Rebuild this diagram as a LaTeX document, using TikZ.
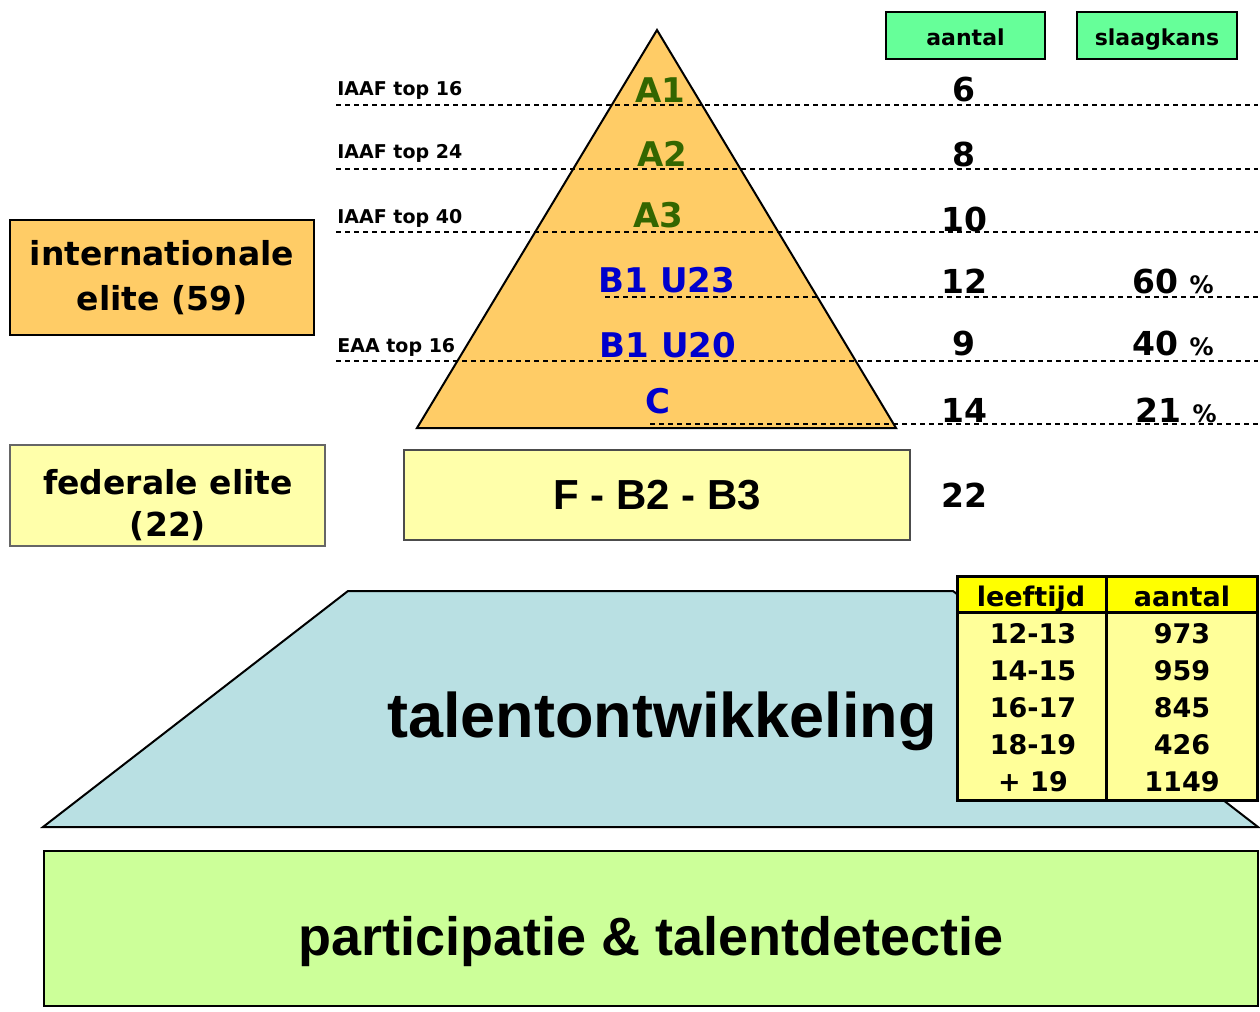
\documentclass[tikz,border=0pt]{standalone}
\usepackage{fontspec}
\setmainfont{DejaVu Sans}
\newfontfamily\arialfont{Liberation Sans}
\definecolor{eliteorange}{HTML}{FFCC66}
\definecolor{headgreen}{HTML}{66FF99}
\definecolor{fedyellow}{HTML}{FFFFAA}
\definecolor{talentblue}{HTML}{B9E0E3}
\definecolor{basegreen}{HTML}{CCFF99}
\definecolor{levelgreen}{HTML}{336600}
\definecolor{levelblue}{HTML}{0000CC}
\definecolor{tabhead}{HTML}{FFFF00}
\definecolor{tabbody}{HTML}{FFFF99}
\tikzset{
  guideline/.style={black, line width=0.8pt, dash pattern=on 2.5pt off 2pt},
  sidelabel/.style={anchor=base west, inner sep=0pt, font=\fontsize{9.5}{11}\selectfont\bfseries},
  level/.style={anchor=base, inner sep=0pt, font=\fontsize{17}{20}\selectfont\bfseries},
  count/.style={anchor=base, inner sep=0pt, font=\fontsize{16.5}{20}\selectfont\bfseries},
  headbox/.style={draw, line width=0.8pt, fill=headgreen, minimum height=23.5pt, text height=10.5pt, text depth=0pt, font=\fontsize{11}{13}\selectfont\bfseries},
  cell/.style={anchor=base, inner sep=0pt, font=\fontsize{13.5}{16}\selectfont\bfseries},
  bigtext/.style={align=center, font=\fontsize{16.5}{22.5}\selectfont\bfseries}
}
\begin{document}
\begin{tikzpicture}[x=0.5pt, y=-0.5pt]
\useasboundingbox (0,0) rectangle (1260,1012);
% pyramid
\coordinate (top) at (657,30);
\coordinate (bl) at (417,428);
\coordinate (br) at (896,428);
\draw[line width=1pt, fill=eliteorange] (top) -- (bl) -- (br) -- cycle;
\foreach \y/\xs in {105/336, 169/336, 232/336, 297/605, 361/336, 424/650}
  \draw[guideline] (\xs,\y) -- (1258,\y);
\node[sidelabel] (iaaf16) at (337,95) {IAAF top 16};
\node[sidelabel] (iaaf24) at (337,158) {IAAF top 24};
\node[sidelabel] (iaaf40) at (337,223) {IAAF top 40};
\node[sidelabel] (eaa16) at (337,352) {EAA top 16};
\node[level, levelgreen] (A1) at (660,102) {A1};
\node[level, levelgreen] (A2) at (662,166) {A2};
\node[level, levelgreen] (A3) at (658,227) {A3};
\node[level, levelblue] (B1U23) at (667,292) {B1 U23};
\node[level, levelblue] (B1U20) at (668,357) {B1 U20};
\node[level, levelblue] (C) at (658,413) {C};
% columns on the right
\node[headbox, minimum width=79.5pt] (aantal) at (965.5,35.5) {aantal};
\node[headbox, minimum width=80pt] (slaagkans) at (1157,35.5) {slaagkans};
\foreach \y/\n in {101/6, 166/8, 231/10, 293/12, 355/9, 422/14, 507/22}
  \node[count] (n\n) at (964,\y) {\n};
\node[count] (p60) at (1173,293) {60 {\fontsize{12}{14}\selectfont\%}};
\node[count] (p40) at (1173,355) {40 {\fontsize{12}{14}\selectfont\%}};
\node[count] (p21) at (1176,422) {21 {\fontsize{12}{14}\selectfont\%}};
% elite boxes
\node[draw, line width=1pt, fill=eliteorange, minimum width=152pt, minimum height=57.5pt, bigtext] (intl) at (162,277.5) {internationale\\elite (59)};
\node[draw=black!60, line width=0.6pt, fill=fedyellow, minimum width=157.5pt, minimum height=50.5pt] (fed) at (167.5,495.5) {};
\node[bigtext, font=\fontsize{16.5}{21}\selectfont\bfseries] (fedtext) at (168,505.5) {federale elite\\(22)};
\node[draw=black!70, line width=0.7pt, fill=fedyellow, minimum width=253pt, minimum height=45pt, font=\fontsize{21}{24}\selectfont\arialfont\bfseries] (fbox) at (657,495) {F - B2 - B3};
% talent development
\draw[line width=1pt, fill=talentblue] (43,827) -- (348,591) -- (953,591) -- (1258,827) -- cycle;
\node[anchor=base, font=\fontsize{31.5}{36}\selectfont\arialfont\bfseries] (talent) at (662,737) {talentontwikkeling};
% age table
\fill[tabbody] (957,612) rectangle (1257,800);
\fill[tabhead] (957,576) rectangle (1257,612);
\draw[line width=1.5pt] (957,576) rectangle (1257,800);
\draw[line width=1.5pt] (957,612) -- (1257,612);
\draw[line width=1.5pt] (1106,576) -- (1106,800);
\node[cell] (hleef) at (1031,606) {leeftijd};
\node[cell] (haant) at (1182,606) {aantal};
\foreach \a/\n [count=\i from 0] in {12-13/973, 14-15/959, 16-17/845, 18-19/426, + 19/1149}
{
  \node[cell] (age\i) at (1033,643+37.2*\i) {\a};
  \node[cell] (num\i) at (1182,643+37.2*\i) {\n};
}
% participation
\node[draw, line width=1pt, fill=basegreen, minimum width=607pt, minimum height=77.5pt] (base) at (651,928.5) {};
\node[anchor=base, font=\fontsize{27}{32}\selectfont\arialfont\bfseries] (basetext) at (651,955) {participatie \& talentdetectie};
\end{tikzpicture}
\end{document}
